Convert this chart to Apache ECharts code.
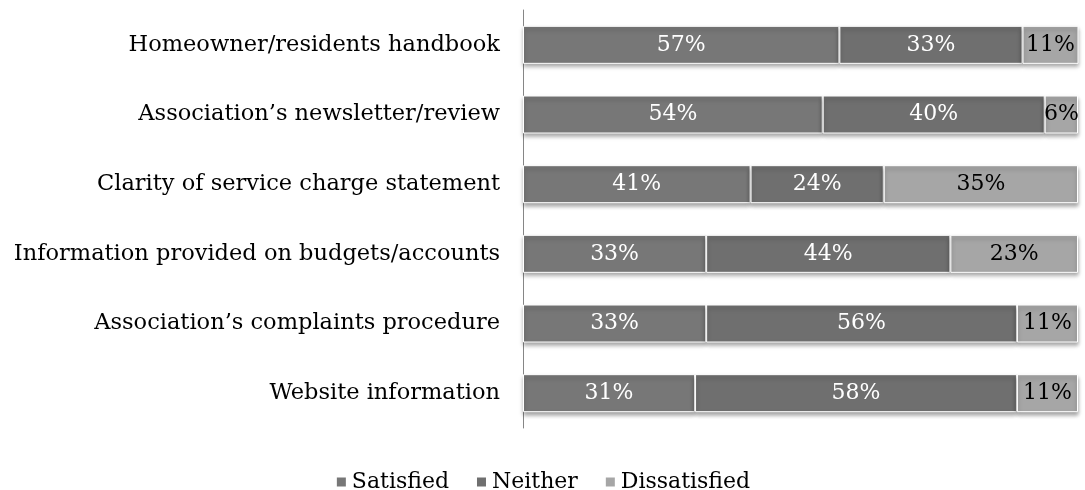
<!DOCTYPE html>
<html>
<head>
<meta charset="utf-8">
<script src="https://cdn.jsdelivr.net/npm/echarts@6/dist/echarts.min.js"></script>
<style>
  html, body { margin: 0; padding: 0; background: #fff; }
  #chart { width: 1085px; height: 490px; }
</style>
</head>
<body>
<div id="chart"></div>
<script>
// Survey items, listed top to bottom
const categories = [
  'Homeowner/residents handbook',
  'Association\u2019s newsletter/review',
  'Clarity of service charge statement',
  'Information provided on budgets/accounts',
  'Association\u2019s complaints procedure',
  'Website information'
];
const seriesNames = ['Satisfied', 'Neither', 'Dissatisfied'];
const satisfied    = [57, 54, 41, 33, 33, 31];
const neither      = [33, 40, 24, 44, 56, 58];
const dissatisfied = [11, 6, 35, 23, 11, 11];

const FONT = 'DejaVu Serif';
const colors = ['#777777', '#6f6f6f', '#a6a6a6'];
const labelColors = ['#ffffff', '#ffffff', '#000000'];
const values = [satisfied, neither, dissatisfied];

const chart = echarts.init(document.getElementById('chart'));

const series = seriesNames.map((name, i) => ({
  name: name,
  type: 'bar',
  stack: 'total',
  barWidth: 38,
  data: values[i],
  itemStyle: {
    color: colors[i],
    borderColor: '#ffffff',
    borderWidth: 1,
    shadowColor: 'rgba(0,0,0,0.35)',
    shadowBlur: 4,
    shadowOffsetY: 3
  },
  label: {
    show: true,
    position: 'inside',
    formatter: p => p.value + '%',
    color: labelColors[i],
    fontFamily: FONT,
    fontSize: 22
  },
  emphasis: { disabled: true }
}));

chart.setOption({
  animation: false,
  textStyle: { fontFamily: FONT },
  legend: {
    data: seriesNames.map((n, i) => ({ name: n, itemStyle: { color: colors[i] } })),
    left: 'center',
    top: 466,
    icon: 'rect',
    itemWidth: 11,
    itemHeight: 11,
    itemGap: 26,
    textStyle: { fontFamily: FONT, fontSize: 22, color: '#000' }
  },
  grid: { left: 523, right: 7, top: 10, bottom: 62, containLabel: false },
  xAxis: {
    type: 'value',
    min: 0,
    max: 100,
    show: false
  },
  yAxis: {
    type: 'category',
    inverse: true,
    data: categories,
    axisLine: { show: true, lineStyle: { color: '#868686', width: 1 } },
    axisTick: { show: false },
    axisLabel: { margin: 23, fontFamily: FONT, fontSize: 22.5, color: '#000' }
  },
  series: series
});
</script>
</body>
</html>
